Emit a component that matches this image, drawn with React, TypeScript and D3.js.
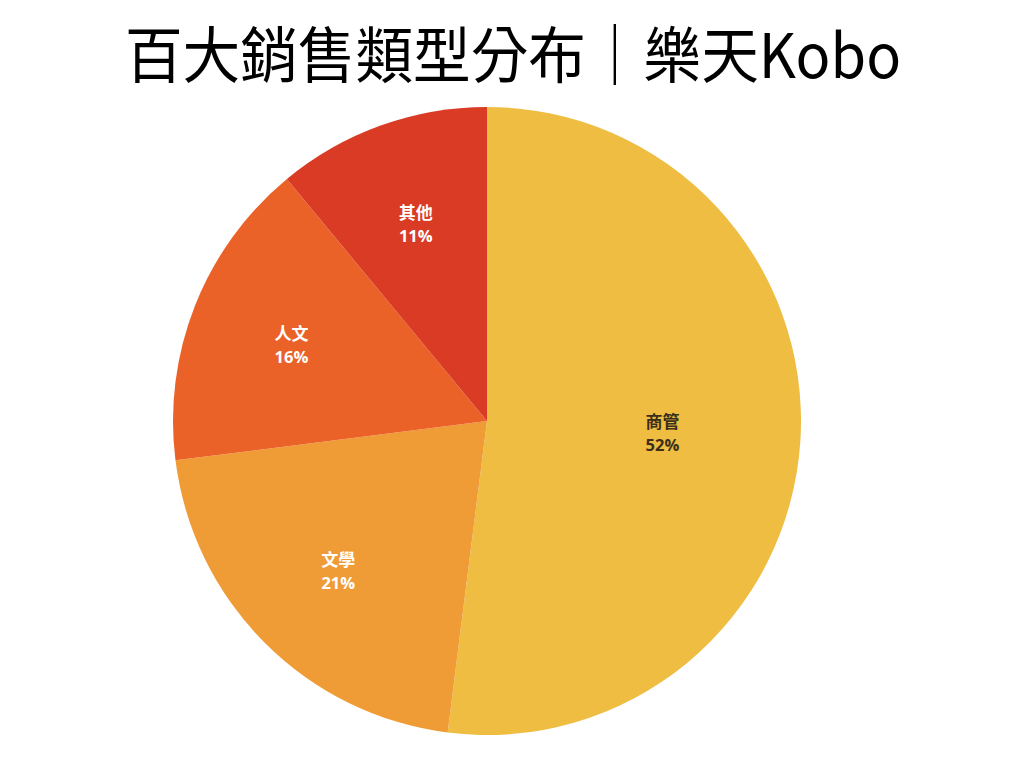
import React from "react";
import * as d3 from "d3";

const categories = ["商管", "文學", "人文", "其他"];
const values = [52, 21, 16, 11];
const colors = ["#EEBD42", "#EF9B36", "#EB6229", "#D93B25"];
const labelColors = ["#3a2f1a", "#ffffff", "#ffffff", "#ffffff"];
const title = "百大銷售類型分布｜樂天Kobo";

export default function App() {
  const W = 1024, H = 768;
  const cx = 487, cy = 421, r = 314;
  const pie = d3.pie<number>().sort(null).value((d) => d)(values);
  const arc = d3.arc<d3.PieArcDatum<number>>().innerRadius(0).outerRadius(r);
  const maxV = d3.max(values) as number;
  return (
    <svg width={W} height={H} style={{ position: "absolute", left: 0, top: 0, background: "#fff" }}>
      <text transform="translate(513,78) scale(0.945,1)" textAnchor="middle" fontFamily="'Noto Sans CJK TC', 'Noto Sans', sans-serif" fontSize={61} fill="#000">{title}</text>
      <g transform={`translate(${cx},${cy})`}>
        {pie.map((p, i) => (
          <path key={i} d={arc(p) as string} fill={colors[i]} />
        ))}
        {pie.map((p, i) => {
          const lr = values[i] === maxV ? r * 0.56 : r * 0.67;
          const a = (p.startAngle + p.endAngle) / 2;
          const x = Math.sin(a) * lr;
          const y = -Math.cos(a) * lr;
          return (
            <g key={"l" + i} fontWeight="bold" fontSize={17} fill={labelColors[i]} textAnchor="middle">
              <text x={x} y={y - 4} fontFamily="'Noto Sans CJK TC', sans-serif">{categories[i]}</text>
              <text x={x} y={y + 19} fontFamily="'Open Sans', sans-serif" fontSize={16.5}>{values[i]}%</text>
            </g>
          );
        })}
      </g>
    </svg>
  );
}
